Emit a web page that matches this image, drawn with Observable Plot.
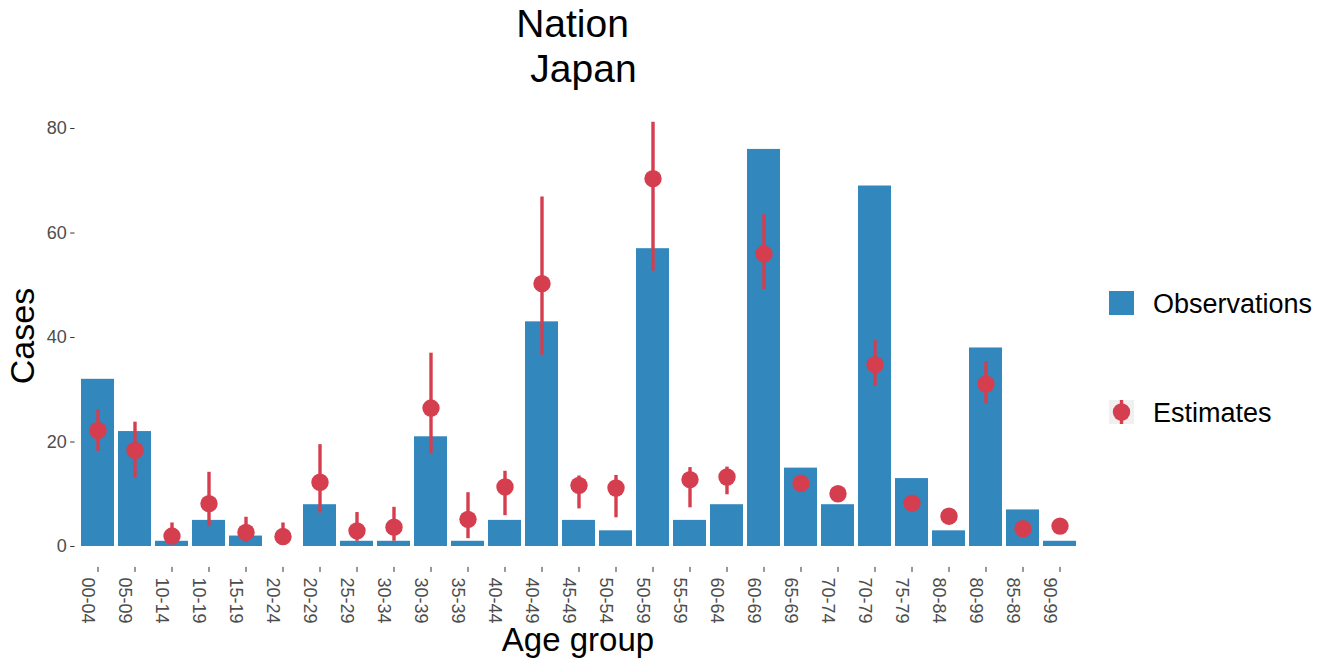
<!DOCTYPE html>
<html>
<head>
<meta charset="utf-8">
<script src="https://cdn.jsdelivr.net/npm/d3@7"></script>
<script src="https://cdn.jsdelivr.net/npm/@observablehq/plot@0.6"></script>
<style>
  html, body { margin: 0; padding: 0; background: #ffffff; }
  #chart { position: relative; width: 1328px; height: 662px; overflow: hidden; }
</style>
</head>
<body>
<div id="chart"></div>
<script>
const ages = ["00-04","05-09","10-14","10-19","15-19","20-24","20-29","25-29","30-34","30-39","35-39","40-44","40-49","45-49","50-54","50-59","55-59","60-64","60-69","65-69","70-74","70-79","75-79","80-84","80-99","85-89","90-99"];
const observations = [32,22,1,5,2,0,8,1,1,21,1,5,43,5,3,57,5,8,76,15,8,69,13,3,38,7,1];
const estimates = [22.2,18.4,2.0,8.2,2.7,1.9,12.3,3.0,3.7,26.5,5.2,11.4,50.3,11.7,11.2,70.4,12.8,13.3,56.0,12.1,10.1,34.8,8.3,5.8,31.1,3.4,3.9];
const estLow = [18.2,13.0,0.5,3.8,0.8,0.3,6.4,1.0,1.0,17.7,1.5,5.9,36.6,7.2,5.5,52.7,7.4,9.9,49.2,11.5,9.6,30.7,7.8,5.3,27.3,3.0,3.5];
const estHigh = [26.2,23.8,4.5,14.2,5.6,4.5,19.5,6.5,7.5,37.0,10.3,14.4,66.9,13.5,13.6,81.2,15.1,15.2,63.5,12.7,10.6,39.4,8.8,6.3,35.4,3.8,4.3];
const yTicks = [0,20,40,60,80];
const titleLines = ["Nation", "Japan"];
const xTitle = "Age group";
const yTitle = "Cases";
const legendLabels = ["Observations", "Estimates"];

const BLUE = "#3288bd";
const RED = "#d53e4f";
const FONT = "'Liberation Sans', Arial, Helvetica, sans-serif";

const rows = ages.map((a, i) => ({age: a, obs: observations[i], est: estimates[i], lo: estLow[i], hi: estHigh[i]}));

const svg = Plot.plot({
  width: 1328,
  height: 662,
  marginLeft: 77,
  marginRight: 247,
  marginTop: 101.9,
  marginBottom: 95.1,
  style: {fontFamily: FONT, background: "#ffffff", overflow: "visible"},
  x: {type: "band", domain: ages, padding: 0.1},
  y: {domain: [-4, 85]},
  marks: [
    Plot.barY(rows, {x: "age", y1: 0, y2: "obs", fill: BLUE}),
    Plot.ruleX(rows, {x: "age", y1: "lo", y2: "hi", stroke: RED, strokeWidth: 3.4}),
    Plot.dot(rows, {x: "age", y: "est", r: 8.7, fill: RED, stroke: null}),
    Plot.axisY({ticks: yTicks, tickSize: 4.3, tickPadding: 4, fontSize: 18, fill: "#4d4d4d", stroke: "#333333", label: null, dx: -2.5}),
    Plot.axisX({tickSize: 5, tickFormat: () => "", stroke: "#333333", label: null}),
    Plot.axisX({tickSize: 0, tickRotate: 90, tickPadding: 10, fontSize: 18, fill: "#4d4d4d", label: null, dx: -10})
  ]
});
document.getElementById("chart").appendChild(svg);

const s = d3.select(svg);
const addText = (x, y, size, txt, anchor) => s.append("text")
  .attr("x", x).attr("y", y).attr("text-anchor", anchor)
  .attr("font-size", size).attr("fill", "#000").attr("font-family", FONT).text(txt);
// Title
addText(572.5, 37, 39, titleLines[0], "middle");
addText(583.5, 82, 39, titleLines[1], "middle");
// Axis titles
addText(578, 651, 33, xTitle, "middle");
s.append("text").attr("transform", "translate(34,336) rotate(-90)").attr("text-anchor", "middle")
  .attr("font-size", 34).attr("fill", "#000").attr("font-family", FONT).text(yTitle);
// Legend
s.append("rect").attr("x", 1109).attr("y", 291).attr("width", 25).attr("height", 24).attr("fill", BLUE);
addText(1153, 313, 27, legendLabels[0], "start");
s.append("rect").attr("x", 1109).attr("y", 400).attr("width", 25).attr("height", 24).attr("fill", "#f0f0f0");
s.append("line").attr("x1", 1121.5).attr("x2", 1121.5).attr("y1", 400).attr("y2", 424).attr("stroke", RED).attr("stroke-width", 3.4);
s.append("circle").attr("cx", 1121.5).attr("cy", 412).attr("r", 8.7).attr("fill", RED);
addText(1153, 422, 27, legendLabels[1], "start");
</script>
</body>
</html>
